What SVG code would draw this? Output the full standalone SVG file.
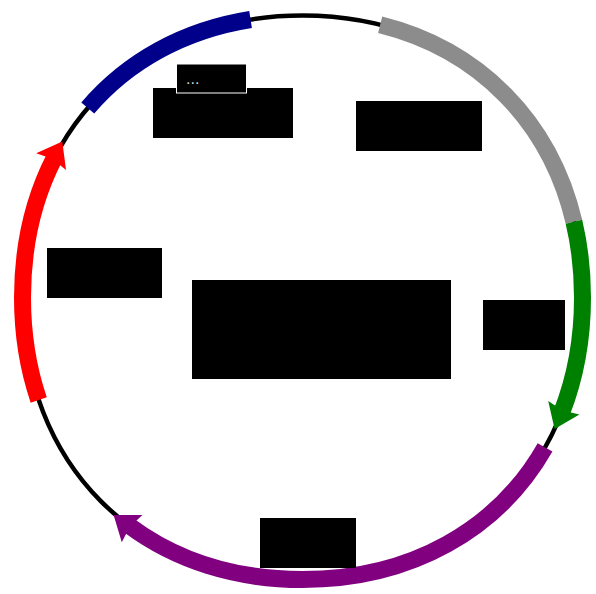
<svg xmlns="http://www.w3.org/2000/svg" width="596" height="594" viewBox="0 0 596 594">
<style>
.ring{fill:none}
.band{stroke-width:17;stroke-linecap:butt}
.lbl{fill:#000}
.dots{font-family:"Liberation Sans",Arial,sans-serif;font-size:16px;fill:#d0d0d0}
</style>
<defs>
<path id="ring" pathLength="360" d="M302.5,15.5 C467.7,15.5 582.5,131.1 582.5,297.5 C582.5,463.9 467.7,579.5 302.5,579.5 C137.3,579.5 22.5,463.9 22.5,297.5 C22.5,131.1 137.3,15.5 302.5,15.5 Z"/>
</defs>
<rect width="596" height="594" fill="#fff"/>
<g id="backbone">
<use href="#ring" class="ring" stroke="#000" stroke-width="4.5"/>
</g>
<g id="connectors">
<g id="feature-blue"><use href="#ring" class="ring band" stroke="#00008b" stroke-dasharray="38.2 400" stroke-dashoffset="-311.3"/></g>
<g id="feature-gray"><use href="#ring" class="ring band" stroke="#8c8c8c" stroke-dasharray="58.8 400" stroke-dashoffset="-15.8"/></g>
<g id="feature-green"><use href="#ring" class="ring band" stroke="#008000" stroke-dasharray="39.2 400" stroke-dashoffset="-74.6"/><polygon fill="#008000" points="554.6,428.9 579.4,414.6 562.6,410.6 548.2,401"/></g>
<g id="feature-purple"><use href="#ring" class="ring band" stroke="#800080" stroke-dasharray="95.8 400" stroke-dashoffset="-121.5"/><polygon fill="#800080" points="113.6,514.9 121.8,542.3 129.6,526.9 142.4,515.1"/></g>
<g id="feature-red"><use href="#ring" class="ring band" stroke="#ff0000" stroke-dasharray="50.2 400" stroke-dashoffset="-249"/><polygon fill="#ff0000" points="62.3,141.5 36.2,153.3 52.6,159 66,169.9"/></g>
</g>
<g id="label-1"><rect class="lbl" x="153" y="88" width="140" height="50"/></g>
<g id="label-2"><rect class="lbl" x="176.5" y="64" width="70" height="29" stroke="#fff" stroke-width="1"/><text class="dots" x="186" y="84">...</text></g>
<g id="label-3"><rect class="lbl" x="356" y="101" width="126" height="50"/></g>
<g id="label-4"><rect class="lbl" x="47" y="248" width="115" height="50"/></g>
<g id="label-5"><rect class="lbl" x="192" y="280" width="259" height="99"/></g>
<g id="label-6"><rect class="lbl" x="483" y="300" width="82" height="50"/></g>
<g id="label-7"><rect class="lbl" x="260" y="518" width="96" height="50"/></g>
</svg>
